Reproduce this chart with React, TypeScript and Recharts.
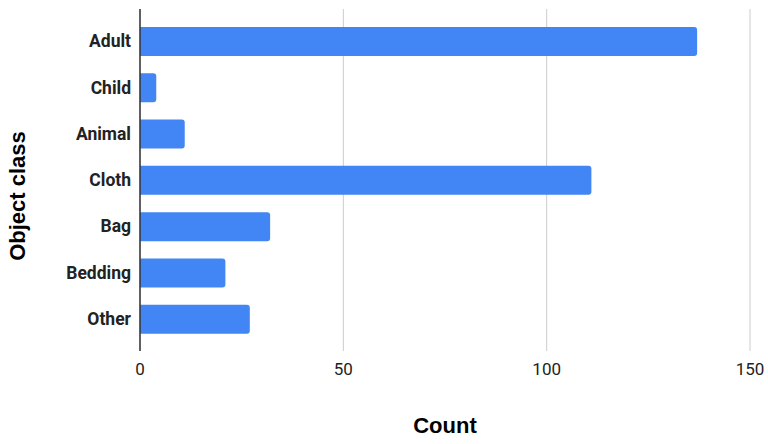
import React from "react";
import { BarChart, Bar, XAxis, YAxis, CartesianGrid, Label } from "recharts";

const categories = ["Adult", "Child", "Animal", "Cloth", "Bag", "Bedding", "Other"];
const counts = [137, 4, 11, 111, 32, 21, 27];
const xTicks = [0, 50, 100, 150];

const data = categories.map((c, i) => ({ name: c, count: counts[i] }));

const font = "Roboto, 'Noto Sans', sans-serif";
const titleFont = "'Liberation Sans', Arial, sans-serif";

export default function App() {
  return (
    <div style={{ position: "absolute", left: 0, top: 0, width: 768, height: 444, background: "#fff" }}>
      <BarChart
        width={768}
        height={444}
        data={data}
        layout="vertical"
        margin={{ top: 9, right: 18, bottom: 0, left: 0 }}
      >
        <CartesianGrid horizontal={false} vertical={true} stroke="#cccccc" strokeWidth={1} />
        <XAxis
          type="number"
          domain={[0, 150]}
          ticks={xTicks}
          axisLine={false}
          tickLine={false}
          tickMargin={6}
          tick={{ fill: "#222222", fontSize: 17, fontFamily: font }}
          height={93}
        >
          <Label
            content={() => (
              <text x={445} y={425} textAnchor="middle" dominantBaseline="central" fontFamily={titleFont} fontWeight="bold" fontSize={22} fill="#000">
                Count
              </text>
            )}
          />
        </XAxis>
        <YAxis
          type="category"
          dataKey="name"
          width={140}
          padding={{ top: 9, bottom: 9 }}
          axisLine={{ stroke: "#333333", strokeWidth: 1.5 }}
          tickLine={false}
          tickMargin={3}
          tick={{ fill: "#222222", fontSize: 17.5, fontFamily: font, fontWeight: "bold" }}
        >
          <Label
            content={() => (
              <text x={17.5} y={196} textAnchor="middle" dominantBaseline="central" transform="rotate(-90 17.5 196)" fontFamily={titleFont} fontWeight="bold" fontSize={22} fill="#000">
                Object class
              </text>
            )}
          />
        </YAxis>
        <Bar dataKey="count" fill="#4285F4" barSize={29} radius={[0, 3, 3, 0]} isAnimationActive={false} />
      </BarChart>
    </div>
  );
}
